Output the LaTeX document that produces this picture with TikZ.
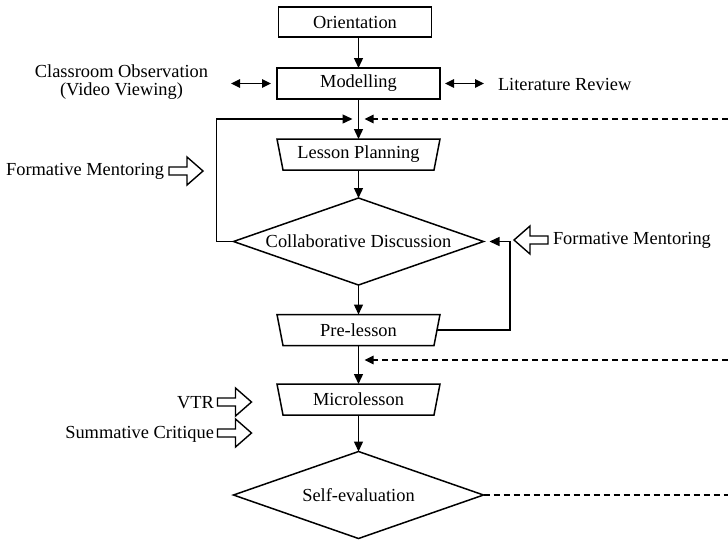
\documentclass[tikz,border=0pt]{standalone}
\usepackage{fontspec}
\setmainfont{Liberation Serif}
\usetikzlibrary{arrows.meta}
\tikzset{
  hollowarrow/.pic={\draw[line width=1.4pt,line join=miter]
    (-17,-4) -- (1,-4) -- (1,-14) -- (17,0) -- (1,14) -- (1,4) -- (-17,4) -- cycle;}
}
\begin{document}
\begin{tikzpicture}[x=1pt,y=-1pt,
  font=\fontsize{18.4}{18.5}\selectfont,
  lw/.style={line width=1.5pt,line join=miter},
  rectbox/.style={draw,line width=1.5pt,minimum height=30pt,inner sep=0pt,outer sep=0pt},
  slot/.style={minimum width=163pt,minimum height=31pt,inner sep=0pt,outer sep=0pt},
  dslot/.style={minimum width=250pt,minimum height=87pt,inner sep=0pt,outer sep=0pt},
  flow/.style={line width=1.4pt,-{Triangle[length=10pt,width=9pt]}},
  dflow/.style={line width=1.3pt,dash pattern=on 6pt off 4pt,-{Triangle[length=9pt,width=8.5pt]}},
  dline/.style={line width=1.3pt,dash pattern=on 6pt off 4pt},
  both/.style={line width=1.4pt,{Triangle[length=9pt,width=8.5pt]}-{Triangle[length=9pt,width=8.5pt]}},
  lbl/.style={inner sep=0pt,outer sep=0pt}
]
\fill[white] (0,0) rectangle (728,539);
\useasboundingbox (0,0) rectangle (728,539);

% main column
\node[rectbox,minimum width=153pt] (orient) at (355,22) {Orientation};
\node[rectbox,minimum width=163pt,minimum height=31pt] (mod) at (358.5,83.5) {Modelling};
\node[slot] (lp) at (358.5,154.5) {Lesson Planning};
\node[dslot] (collab) at (358.5,241.5) {Collaborative Discussion};
\node[slot] (pre) at (358.5,330) {Pre-lesson};
\node[slot] (micro) at (358.5,399.5) {Microlesson};
\node[dslot] (self) at (358.5,495) {Self-evaluation};

% trapezoids
\draw[lw] (lp.north west) -- (lp.north east) -- ([xshift=-6pt]lp.south east) -- ([xshift=6pt]lp.south west) -- cycle;
\draw[lw] (pre.north west) -- (pre.north east) -- ([xshift=-6pt]pre.south east) -- ([xshift=6pt]pre.south west) -- cycle;
\draw[lw] (micro.north west) -- (micro.north east) -- ([xshift=-6pt]micro.south east) -- ([xshift=6pt]micro.south west) -- cycle;
% diamonds
\draw[lw] (collab.north) -- (collab.east) -- (collab.south) -- (collab.west) -- cycle;
\draw[lw] (self.north) -- (self.east) -- (self.south) -- (self.west) -- cycle;

% side labels
\node[lbl,align=center] (cls) at (121.5,82) {Classroom Observation\\(Video Viewing)};
\node[lbl,anchor=west] (lit) at (498,84) {Literature Review};
\node[lbl,anchor=east] (fm1) at (164,171) {Formative Mentoring};
\node[lbl,anchor=west] (fm2) at (553,240) {Formative Mentoring};
\node[lbl,anchor=east] (vtr) at (214,403) {VTR};
\node[lbl,anchor=east] (sc) at (214,434) {Summative Critique};

% hollow arrows
\pic at (186,171) {hollowarrow};
\pic at (234.5,402) {hollowarrow};
\pic at (234.5,433) {hollowarrow};
\pic[xscale=-1] at (531,240) {hollowarrow};

% junction coordinates
\coordinate (j1) at (358.5,119);
\coordinate (r1) at (728,119);
\coordinate (j2) at (358.5,360);
\coordinate (r2) at (728,360);
\coordinate (r3) at (728,495);

% connectors
\draw[flow] (orient.south -| mod.north) -- (mod.north);
\draw[both] ([xshift=-6pt]mod.west) -- ([xshift=-46pt]mod.west);
\draw[both] ([xshift=5pt]mod.east) -- ([xshift=44pt]mod.east);
\draw[flow] (mod.south) -- (lp.north);
\draw[flow] (collab.west) -- ++(-17,0) |- ([xshift=-6pt]j1);
\draw[dflow] (r1) -- ([xshift=6pt]j1);
\draw[flow] (lp.south) -- (collab.north);
\draw[flow] (collab.south) -- (pre.north);
\draw[flow] ([xshift=-3pt]pre.east) -- ++(73,0) |- ([xshift=6pt]collab.east);
\draw[dflow] (r2) -- ([xshift=6pt]j2);
\draw[flow] (pre.south) -- (micro.north);
\draw[flow] (micro.south) -- (self.north);
\draw[dline] (self.east) -- (r3);
\end{tikzpicture}
\end{document}
